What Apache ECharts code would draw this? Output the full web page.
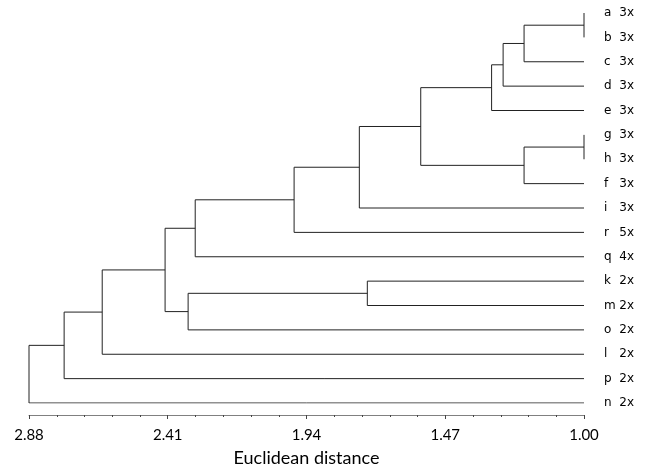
<!DOCTYPE html>
<html>
<head>
<meta charset="utf-8">
<script src="https://cdn.jsdelivr.net/npm/echarts@6/dist/echarts.min.js"></script>
<style>
  html, body { margin: 0; padding: 0; background: #fff; }
  #main { width: 648px; height: 465px; }
</style>
</head>
<body>
<div id="main"></div>
<script>
// leaves, top to bottom
var leaves = ['a', 'b', 'c', 'd', 'e', 'g', 'h', 'f', 'i', 'r', 'q', 'k', 'm', 'o', 'l', 'p', 'n'];
var counts = ['3x', '3x', '3x', '3x', '3x', '3x', '3x', '3x', '3x', '5x', '4x', '2x', '2x', '2x', '2x', '2x', '2x'];

// merges (linkage style: index < 17 is a leaf, 17 + k is merge k)
var mergeLeft   = [0, 17, 18, 19, 5, 21, 20, 23, 24, 25, 11, 27, 26, 29, 30, 31];
var mergeRight  = [1, 2, 3, 4, 6, 7, 22, 8, 9, 10, 12, 13, 28, 14, 15, 16];
var mergeHeight = [1.00, 1.203, 1.274, 1.313, 1.00, 1.203, 1.553, 1.761, 1.982, 2.317, 1.734, 2.341, 2.419, 2.632, 2.761, 2.88];

var leafHeight = 1.00;
var xTicks = [1.00, 1.47, 1.94, 2.41, 2.88];

var n = leaves.length;
var nodeY = [], nodeH = [];
for (var i = 0; i < n; i++) { nodeY.push(i); nodeH.push(leafHeight); }

var links = [];
for (var k = 0; k < mergeHeight.length; k++) {
  var l = mergeLeft[k], r = mergeRight[k], h = mergeHeight[k];
  links.push({
    coords: [[nodeH[l], nodeY[l]], [h, nodeY[l]], [h, nodeY[r]], [nodeH[r], nodeY[r]]]
  });
  nodeY.push((nodeY[l] + nodeY[r]) / 2);
  nodeH.push(h);
}

var myChart = echarts.init(document.getElementById('main'));

myChart.setOption({
  animation: false,
  grid: { left: 29, right: 64, top: 13, bottom: 62, outerBoundsMode: 'none' },
  xAxis: {
    type: 'value',
    inverse: true,
    min: xTicks[0],
    max: xTicks[xTicks.length - 1],
    interval: 0.47,
    offset: 12,
    name: 'Euclidean distance',
    nameLocation: 'middle',
    nameGap: 34,
    nameTextStyle: { fontFamily: 'Lato', fontSize: 18, color: '#000' },
    axisLine: { onZero: false, lineStyle: { color: '#808080', width: 1 } },
    axisTick: { show: true, length: 4, lineStyle: { color: '#444' } },
    minorTick: { show: true, splitNumber: 5, length: 2, lineStyle: { color: '#444' } },
    splitLine: { show: false },
    axisLabel: {
      margin: 13,
      fontFamily: 'Lato',
      fontSize: 15,
      color: '#000',
      formatter: function (v) { return v.toFixed(2); }
    }
  },
  yAxis: {
    type: 'value',
    inverse: true,
    position: 'right',
    min: 0,
    max: n - 1,
    interval: 1,
    axisLine: { show: false },
    axisTick: { show: false },
    splitLine: { show: false },
    axisLabel: {
      margin: 20,
      formatter: function (v) {
        if (v !== Math.round(v) || !leaves[v]) return '';
        return '{n|' + leaves[v] + '}{c|' + counts[v] + '}';
      },
      rich: {
        n: { width: 14, fontFamily: 'DejaVu Sans', fontSize: 12, color: '#000' },
        c: { width: 16, align: 'right', fontFamily: 'DejaVu Sans', fontSize: 12, color: '#000' }
      }
    }
  },
  series: [{
    type: 'lines',
    coordinateSystem: 'cartesian2d',
    polyline: true,
    silent: true,
    lineStyle: { color: '#222', width: 1, opacity: 1 },
    data: links
  }]
});
</script>
</body>
</html>
